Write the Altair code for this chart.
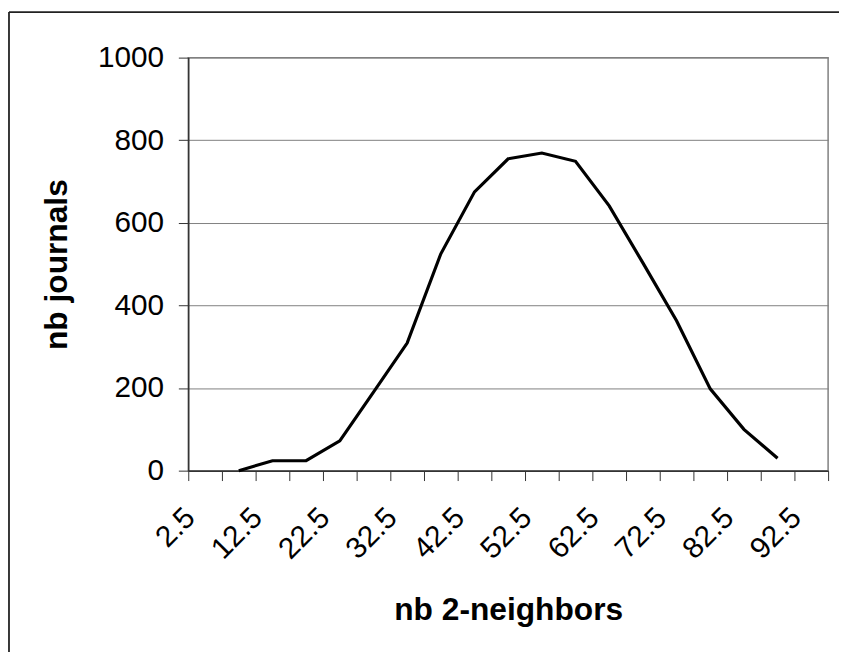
import altair as alt
import pandas as pd

# Category axis (bin centres) and the series
CATEGORIES = ["2.5", "7.5", "12.5", "17.5", "22.5", "27.5", "32.5", "37.5", "42.5",
              "47.5", "52.5", "57.5", "62.5", "67.5", "72.5", "77.5", "82.5", "87.5", "92.5"]
X_VALUES = ["7.5", "12.5", "17.5", "22.5", "27.5", "32.5", "37.5", "42.5", "47.5",
            "52.5", "57.5", "62.5", "67.5", "72.5", "77.5", "82.5", "87.5"]
COUNTS = [0, 24, 24, 72, 190, 309, 525, 675, 755, 769, 749, 641, 503, 363, 198, 100, 30]
SHOWN_LABELS = ["2.5", "12.5", "22.5", "32.5", "42.5", "52.5", "62.5", "72.5", "82.5", "92.5"]
Y_TICKS = [0, 200, 400, 600, 800, 1000]

df = pd.DataFrame({"bin": X_VALUES, "count": COUNTS})

FONT = "Liberation Sans"
shown = ",".join("'" + s + "'" for s in SHOWN_LABELS)

one = pd.DataFrame({"a": [0]})
frame_top = alt.Chart(one).mark_rule(color="#222222", strokeWidth=1.8).encode(
    x=alt.value(-181), x2=alt.value(700), y=alt.value(-46)
)
frame_left = alt.Chart(one).mark_rule(color="#222222", strokeWidth=1.8).encode(
    x=alt.value(-181), y=alt.value(-46), y2=alt.value(700)
)

line = alt.Chart(df).mark_line(color="black", strokeWidth=3.2).encode(
    x=alt.X(
        "bin:O",
        scale=alt.Scale(type="band", domain=CATEGORIES, paddingInner=0, paddingOuter=0),
        bandPosition=0.5,
        sort=CATEGORIES,
        axis=alt.Axis(
            title="nb 2-neighbors",
            labelAngle=-45,
            tickBand="extent",
            labelExpr="indexof([" + shown + "], datum.label) >= 0 ? datum.label : ''",
            labelOverlap=False,
            labelFont=FONT,
            labelFontSize=30,
            labelColor="black",
            labelPadding=22,
            labelOffset=-26,
            tickSize=10,
            tickColor="#333333",
            domainColor="#333333",
            domainWidth=1.5,
            grid=False,
            titleFont=FONT,
            titleFontSize=32,
            titleFontWeight="bold",
            titleColor="black",
            titleBaseline="middle",
            titleY=140,
        ),
    ),
    y=alt.Y(
        "count:Q",
        scale=alt.Scale(domain=[0, 1000], nice=False),
        axis=alt.Axis(
            title="nb journals",
            values=Y_TICKS,
            format="d",
            labelFont=FONT,
            labelFontSize=30,
            labelColor="black",
            labelPadding=15,
            tickSize=10,
            tickColor="#333333",
            domainColor="#333333",
            domainWidth=1.5,
            grid=True,
            gridColor="#808080",
            gridWidth=1,
            titleFont=FONT,
            titleFontSize=32,
            titleFontWeight="bold",
            titleColor="black",
            titleBaseline="middle",
            titleX=-133,
        ),
    ),
)

chart = alt.layer(frame_top, frame_left, line).properties(
    width=646,
    height=417,
    autosize=alt.AutoSizeParams(type="none"),
    padding={"left": 182, "top": 47, "right": 11, "bottom": 180},
    background="white",
).configure_view(
    stroke="#808080", strokeWidth=1.5
)

chart.save("out.html", embed_options={"renderer": "svg", "actions": False})
